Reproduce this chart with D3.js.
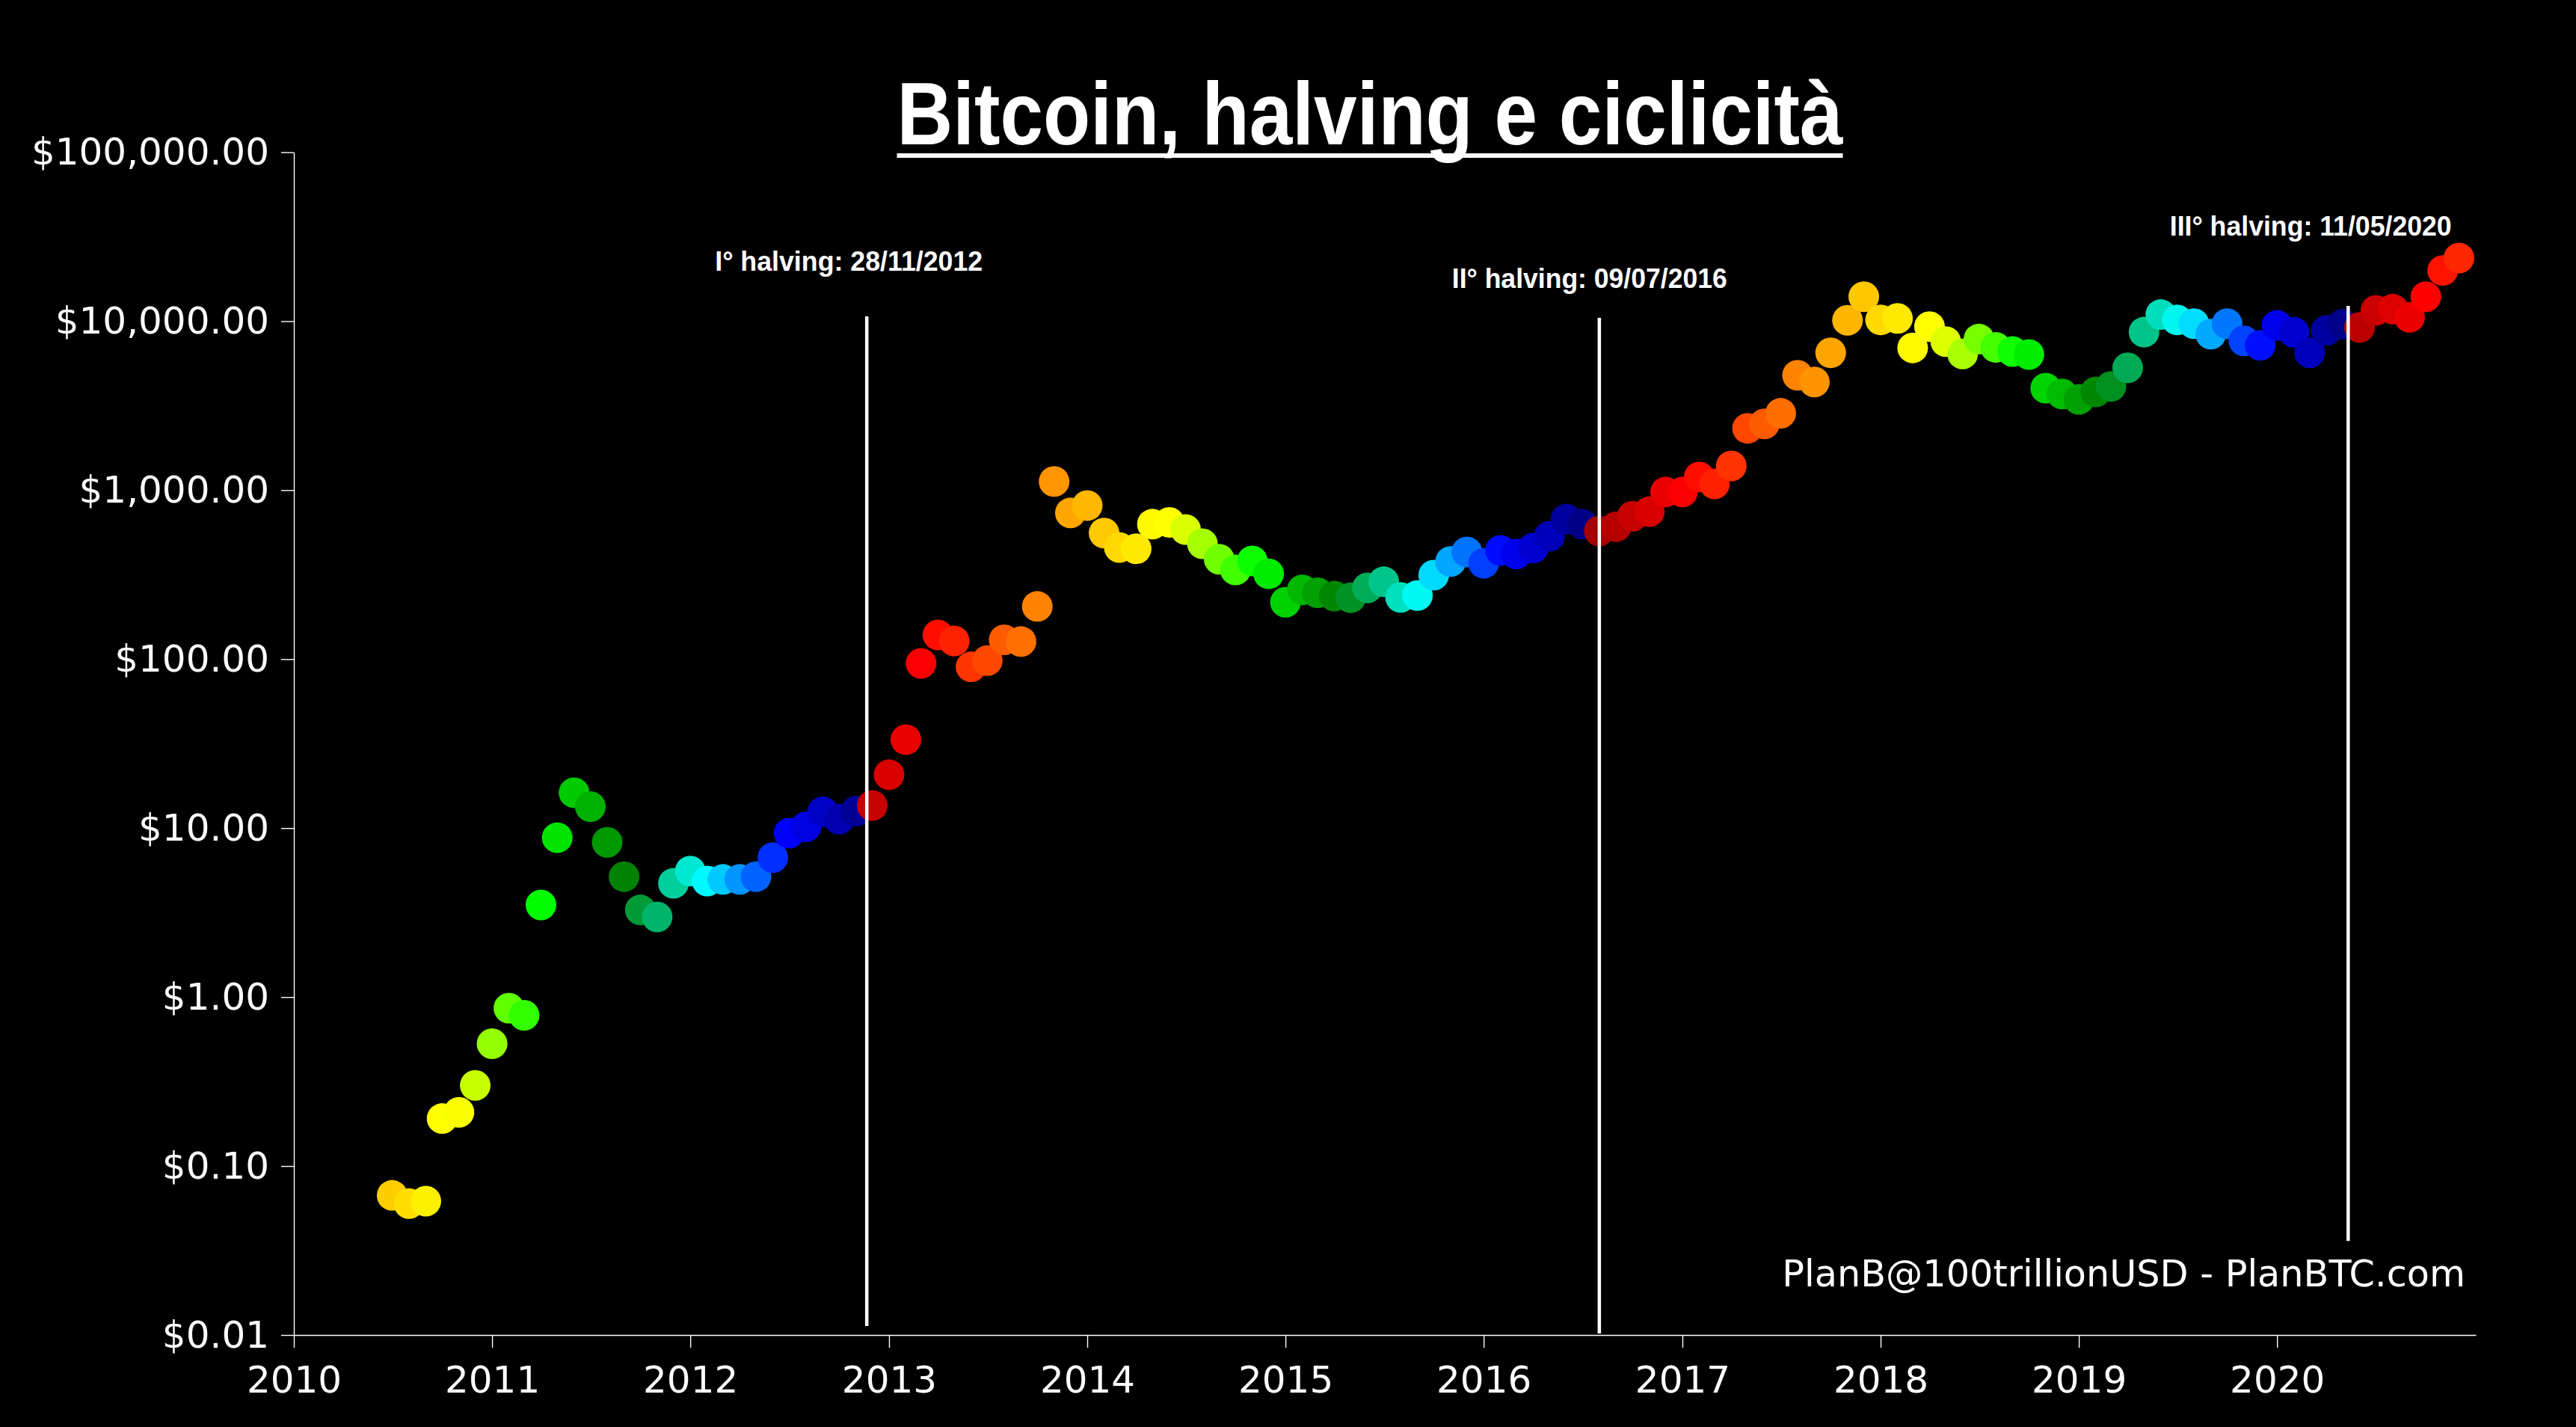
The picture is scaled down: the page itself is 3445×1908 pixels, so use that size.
<!DOCTYPE html>
<html>
<head>
<meta charset="utf-8">
<script src="https://cdn.jsdelivr.net/npm/d3@7/dist/d3.min.js"></script>
<style>
  html, body { margin: 0; padding: 0; background: #000; }
  svg { display: block; }
</style>
</head>
<body>
<svg id="chart" width="3445" height="1908"></svg>
<script>
// ---------------- DATA ----------------
// Monthly BTC price (USD), first day of month
const firstMonth = "2010-07-01";
const price2010 = [0.067, 0.060, 0.062, 0.191, 0.208, 0.30];            // Jul-Dec
const price2011 = [0.53, 0.86, 0.78, 3.51, 8.77, 16.2, 13.4, 8.24, 5.16, 3.28, 2.98, 4.71];
const price2012 = [5.56, 4.86, 4.97, 4.97, 5.16, 6.68, 9.33, 10.17, 12.47, 11.3, 12.6, 13.6];
const price2013 = [20.7, 33.4, 94.4, 139, 128, 90, 98, 130, 127, 205, 1125, 733];
const price2014 = [811, 557, 458, 450, 629, 645, 585, 482, 390, 337, 381, 320];
const price2015 = [217, 257, 247, 236, 231, 264, 287, 232, 238, 314, 378, 431];
const price2016 = [369, 440, 419, 454, 533, 674, 629, 573, 608, 701, 746, 975];
const price2017 = [975, 1197, 1089, 1390, 2323, 2466, 2850, 4786, 4365, 6501, 10116, 13960];
const price2018 = [10180, 10380, 6950, 9290, 7570, 6394, 7837, 7000, 6607, 6353, 4012, 3707];
const price2019 = [3442, 3810, 4111, 5297, 8612, 10940, 10180, 9664, 8380, 9664, 7650, 7200];
const price2020 = [9440, 8590, 6500, 8824, 9610, 9190, 11580, 11780, 10530, 13960, 19950, 23650];

// Halving events
const halvingDates  = ["2012-11-28", "2016-07-09", "2020-05-11"];
const nextHalvingEstimate = "2024-02-01";
const halvingLabels = ["I° halving: 28/11/2012", "II° halving: 09/07/2016", "III° halving: 11/05/2020"];
const halvingLineDates = ["2012-11-21", "2016-08-01", "2020-05-11"];
const halvingLineLow  = [0.0113, 0.0102, 0.036];
const halvingLineHigh = [10670, 10460, 12300];
const halvingLabelDates  = ["2012-10-19", "2016-07-14", "2020-03-03"];
const halvingLabelPrices = [19880, 15720, 32090];
const halvingLabelWidths = [358, 368, 377];

// Axis ticks
const yTicks = [0.01, 0.1, 1, 10, 100, 1000, 10000, 100000];
const xTickYears = [2010, 2011, 2012, 2013, 2014, 2015, 2016, 2017, 2018, 2019, 2020];

const titleText = "Bitcoin, halving e ciclicità";
const creditText = "PlanB@100trillionUSD - PlanBTC.com";

// ---------------- BUILD ----------------
const allPrices = [].concat(price2010, price2011, price2012, price2013, price2014,
  price2015, price2016, price2017, price2018, price2019, price2020);
const parse = d3.utcParse("%Y-%m-%d");
const start = parse(firstMonth);
const data = allPrices.map((p, i) => ({ date: d3.utcMonth.offset(start, i), price: p }));

const halvings = halvingDates.map(parse).concat([parse(nextHalvingEstimate)]);
const MONTH_MS = 30.4375 * 24 * 3600 * 1000;
function monthsToNextHalving(d) {
  const nxt = halvings.find(h => h > d);
  return (nxt - d) / MONTH_MS;
}
const color = d3.scaleLinear()
  .domain([0, 5, 10, 15, 20, 25, 26, 33, 40, 46])
  .range(["#000080", "#0000ff", "#00ffff", "#008000", "#00ff00", "#ffff00", "#ffff00", "#ff8800", "#ff0000", "#990000"])
  .clamp(true);

const svg = d3.select("#chart");
svg.append("rect").attr("width", 3445).attr("height", 1908).attr("fill", "#000");

const x = d3.scaleUtc()
  .domain([Date.UTC(2010, 0, 1), Date.UTC(2021, 0, 1)])
  .range([393, 3311]);
const y = d3.scaleLog()
  .domain([0.01, 100000])
  .range([1785, 203.5]);

// Axes
const xAxis = d3.axisBottom(x)
  .tickValues(xTickYears.map(yr => new Date(Date.UTC(yr, 0, 1))))
  .tickFormat(d3.utcFormat("%Y"))
  .tickSize(17).tickSizeOuter(0).tickPadding(24);
const yAxis = d3.axisLeft(y)
  .tickValues(yTicks)
  .tickFormat(d3.format("$,.2f"))
  .tickSize(17).tickSizeOuter(0).tickPadding(16);

const gx = svg.append("g").attr("transform", `translate(0,${y.range()[0]})`).call(xAxis);
const gy = svg.append("g").attr("transform", `translate(${x.range()[0]},0)`).call(yAxis);
[gx, gy].forEach(g => {
  g.attr("font-family", "'DejaVu Sans', sans-serif").attr("font-size", 50);
  g.selectAll("path, line").attr("stroke", "#fff").attr("stroke-width", 1.4);
  g.selectAll("text").attr("fill", "#fff");
});

// Dots
svg.append("g").selectAll("circle")
  .data(data)
  .join("circle")
  .attr("cx", d => x(d.date))
  .attr("cy", d => y(d.price))
  .attr("r", 20.5)
  .attr("fill", d => color(monthsToNextHalving(d.date)));

// Halving lines
svg.append("g").selectAll("line")
  .data(halvingLineDates.map((d, i) => ({ date: parse(d), lo: halvingLineLow[i], hi: halvingLineHigh[i] })))
  .join("line")
  .attr("x1", d => x(d.date)).attr("x2", d => x(d.date))
  .attr("y1", d => y(d.hi)).attr("y2", d => y(d.lo))
  .attr("stroke", "#fff").attr("stroke-width", 4.5);

// Halving labels (condensed bold)
svg.append("g").selectAll("text")
  .data(halvingLabels.map((t, i) => ({ t, date: parse(halvingLabelDates[i]), p: halvingLabelPrices[i], w: halvingLabelWidths[i] })))
  .join("text")
  .attr("x", d => x(d.date))
  .attr("y", d => y(d.p))
  .attr("text-anchor", "middle")
  .attr("font-family", "'Liberation Sans Narrow', 'Arial Narrow', 'Liberation Sans', sans-serif")
  .attr("font-weight", "bold")
  .attr("font-size", 37)
  .attr("textLength", d => d.w)
  .attr("lengthAdjust", "spacingAndGlyphs")
  .attr("fill", "#fff")
  .text(d => d.t);

// Title with underline (condensed bold)
const titleWidth = 1265;
const title = svg.append("text")
  .attr("x", 1832).attr("y", 193)
  .attr("text-anchor", "middle")
  .attr("font-family", "'Liberation Sans Narrow', 'Arial Narrow', 'Liberation Sans', sans-serif")
  .attr("font-weight", "bold")
  .attr("font-size", 118)
  .attr("textLength", titleWidth)
  .attr("lengthAdjust", "spacingAndGlyphs")
  .attr("fill", "#fff")
  .text(titleText);
svg.append("rect")
  .attr("x", 1832 - titleWidth / 2).attr("y", 205)
  .attr("width", titleWidth).attr("height", 6)
  .attr("fill", "#fff");

// Credit
svg.append("text")
  .attr("x", 3297).attr("y", 1720)
  .attr("text-anchor", "end")
  .attr("font-family", "'DejaVu Sans', sans-serif")
  .attr("font-size", 49.3)
  .attr("fill", "#fff")
  .text(creditText);
</script>
</body>
</html>
